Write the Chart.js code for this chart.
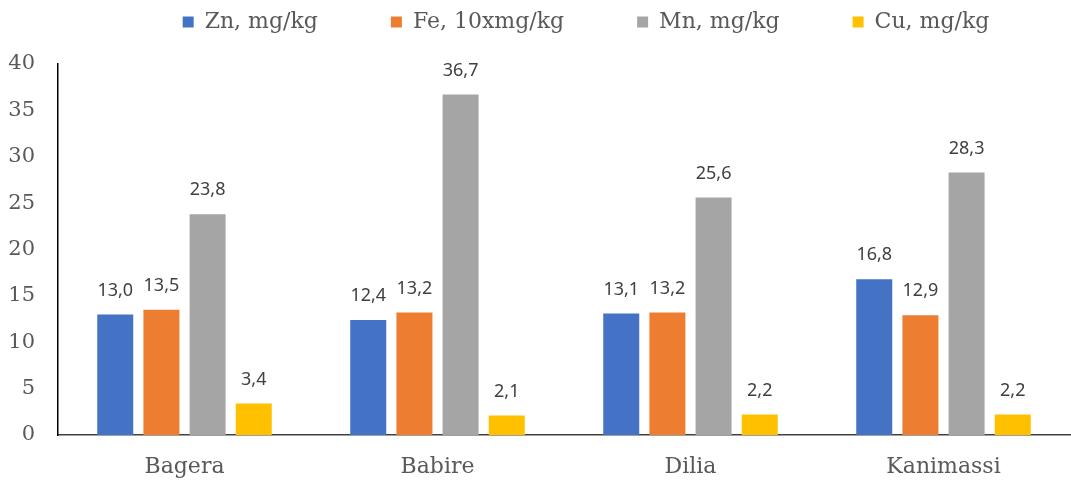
<!DOCTYPE html>
<html>
<head>
<meta charset="utf-8">
<script src="https://cdn.jsdelivr.net/npm/chart.js@4.4.1/dist/chart.umd.min.js"></script>
<style>
  html, body { margin: 0; padding: 0; background: #fff; }
  #wrap { width: 1071px; height: 483px; position: relative; }
</style>
</head>
<body>
<div id="wrap"><canvas id="chart"></canvas></div>
<script>
const sites = ["Bagera", "Babire", "Dilia", "Kanimassi"];
const zn = [13.0, 12.4, 13.1, 16.8];
const fe = [13.5, 13.2, 13.2, 12.9];
const mn = [23.8, 36.7, 25.6, 28.3];
const cu = [3.4, 2.1, 2.2, 2.2];
const seriesNames = ["Zn, mg/kg", "Fe, 10xmg/kg", "Mn, mg/kg", "Cu, mg/kg"];
const seriesColors = ["#4472C4", "#ED7D31", "#A5A5A5", "#FFC000"];

// valeurs au-dessus des barres, virgule décimale
const valueLabels = {
  id: "valueLabels",
  afterDatasetsDraw(chart) {
    const ctx = chart.ctx;
    ctx.save();
    ctx.font = '18px "Noto Sans"';
    ctx.fillStyle = "#404040";
    ctx.textAlign = "center";
    ctx.textBaseline = "middle";
    chart.data.datasets.forEach((ds, i) => {
      chart.getDatasetMeta(i).data.forEach((bar, j) => {
        const txt = ds.data[j].toFixed(1).replace(".", ",");
        ctx.fillText(txt, bar.x, bar.y - 24);
      });
    });
    ctx.restore();
  }
};

// plus d'espace sous la légende, et légende un peu décalée à droite
const legendSpacing = {
  id: "legendSpacing",
  afterInit(chart) {
    const fit = chart.legend.fit;
    chart.legend.fit = function () {
      fit.call(this);
      this.height += 21;
    };
  },
  afterLayout(chart) {
    chart.legend.left += 22;
    chart.legend.right += 22;
  }
};

const datasets = [zn, fe, mn, cu].map((vals, i) => ({
  label: seriesNames[i],
  data: vals,
  backgroundColor: seriesColors[i],
  categoryPercentage: 0.73,
  barPercentage: 0.78
}));

new Chart(document.getElementById("chart"), {
  type: "bar",
  data: { labels: sites, datasets },
  plugins: [valueLabels, legendSpacing],
  options: {
    responsive: true,
    maintainAspectRatio: false,
    animation: false,
    layout: { padding: { top: -62, right: 1, bottom: 2, left: 0 } },
    plugins: {
      tooltip: { enabled: false },
      legend: {
        position: "top",
        fullSize: false,
        labels: {
          boxWidth: 11,
          boxHeight: 11,
          padding: 73,
          color: "#595959",
          font: { family: "DejaVu Serif", size: 22 }
        }
      }
    },
    scales: {
      x: {
        grid: { display: false, drawTicks: false },
        border: { display: true, color: "#404040", width: 1.5 },
        ticks: {
          padding: 19,
          color: "#595959",
          font: { family: "DejaVu Serif", size: 22 }
        },
        afterFit: s => { s.height = 46; }
      },
      y: {
        min: 0,
        max: 40,
        grid: { display: false, drawTicks: false },
        border: { display: true, color: "#000", width: 1.5 },
        ticks: {
          stepSize: 5,
          padding: 23,
          color: "#595959",
          font: { family: "DejaVu Serif", size: 21 }
        },
        afterFit: s => { s.width = 58; }
      }
    }
  }
});
</script>
</body>
</html>
